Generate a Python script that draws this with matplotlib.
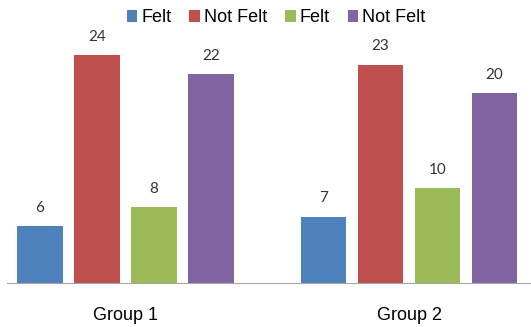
#!/usr/bin/env python3
import numpy as np
import matplotlib
matplotlib.use("Agg")
import matplotlib.pyplot as plt

groups = ["Group 1", "Group 2"]
series_names = ["Felt", "Not Felt", "Felt", "Not Felt"]
values = [
    [6, 7],    # Felt (blue)
    [24, 23],  # Not Felt (red)
    [8, 10],   # Felt (green)
    [22, 20],  # Not Felt (purple)
]
colors = ["#4F81BD", "#C0504D", "#9BBB59", "#8064A2"]


def main():
    fig = plt.figure(figsize=(5.31, 3.27), dpi=100)
    ax = fig.add_axes([7 / 531, 44 / 327, 524 / 531, 253 / 327])

    x = np.arange(len(groups))
    step = 0.201
    width = 0.159
    offsets = (np.arange(len(series_names)) - 1.5) * step

    for name, vals, color, off in zip(series_names, values, colors, offsets):
        bars = ax.bar(x + off, vals, width, color=color, label=name)
        for b, v in zip(bars, vals):
            ax.annotate(str(v), (b.get_x() + b.get_width() / 2, v),
                        xytext=(0, 8), textcoords="offset points",
                        ha="center", va="bottom", fontsize=11,
                        family="Lato", color="#333333")

    ax.set_xlim(-0.418, 1.430)
    ax.set_ylim(0, 253 / 9.5)
    ax.set_xticks(x)
    ax.set_xticklabels(groups, fontsize=13, family="Liberation Sans")
    ax.tick_params(axis="x", length=0, pad=17)
    ax.set_yticks([])
    for side in ["top", "right", "left"]:
        ax.spines[side].set_visible(False)
    ax.spines["bottom"].set_color("#A6A6A6")

    ax.legend(loc="center", bbox_to_anchor=(276 / 531, 1 - 18 / 327),
              bbox_transform=fig.transFigure, ncol=4, frameon=False,
              prop={"family": "Liberation Sans", "size": 13},
              handlelength=0.6, handleheight=0.6, handletextpad=0.2,
              columnspacing=1.0, borderpad=0)

    fig.savefig("out.png", dpi=100)
    plt.close(fig)


if __name__ == "__main__":
    main()
